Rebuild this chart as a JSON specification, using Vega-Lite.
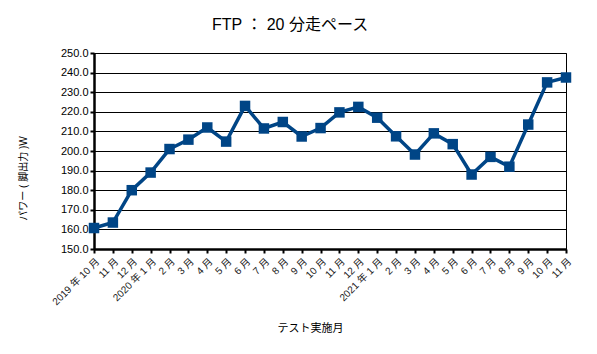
{
  "$schema": "https://vega.github.io/schema/vega-lite/v6.json",
  "autosize": "none",
  "width": 472,
  "height": 196,
  "padding": {"left": 94, "top": 53, "right": 31, "bottom": 105},
  "background": "white",
  "title": {
    "text": "FTP ： 20 分走ペース",
    "font": "Liberation Sans, Noto Sans CJK JP",
    "fontSize": 16,
    "fontWeight": "normal",
    "color": "#000000",
    "anchor": "middle",
    "dx": -40,
    "offset": 14
  },
  "config": {
    "view": {"stroke": "#000000", "strokeWidth": 1},
    "font": "Liberation Sans, Noto Sans CJK JP"
  },
  "data": {
    "values": [
      {"month": "2019-10", "power": 160.7},
      {"month": "2019-11", "power": 163.5},
      {"month": "2019-12", "power": 180.0},
      {"month": "2020-01", "power": 189.0},
      {"month": "2020-02", "power": 201.0},
      {"month": "2020-03", "power": 205.8},
      {"month": "2020-04", "power": 212.0},
      {"month": "2020-05", "power": 204.8},
      {"month": "2020-06", "power": 223.0},
      {"month": "2020-07", "power": 211.5},
      {"month": "2020-08", "power": 214.8},
      {"month": "2020-09", "power": 207.4},
      {"month": "2020-10", "power": 211.7},
      {"month": "2020-11", "power": 219.7},
      {"month": "2020-12", "power": 222.5},
      {"month": "2021-01", "power": 217.0},
      {"month": "2021-02", "power": 207.5},
      {"month": "2021-03", "power": 198.2},
      {"month": "2021-04", "power": 209.0},
      {"month": "2021-05", "power": 203.5},
      {"month": "2021-06", "power": 188.0},
      {"month": "2021-07", "power": 197.0},
      {"month": "2021-08", "power": 192.0},
      {"month": "2021-09", "power": 213.5},
      {"month": "2021-10", "power": 235.0},
      {"month": "2021-11", "power": 237.5}
    ]
  },
  "encoding": {
    "x": {
      "field": "month",
      "type": "ordinal",
      "sort": null,
      "scale": {"type": "point", "padding": 0},
      "axis": {
        "title": "テスト実施月",
        "titleFontSize": 11,
        "titleFontWeight": "normal",
        "titleColor": "#000000",
        "titleBaseline": "alphabetic",
        "titleX": 216,
        "titleY": 82,
        "labelAngle": -45,
        "labelFontSize": 10,
        "labelColor": "#1a1a1a",
        "labelPadding": 3,
        "labelOverlap": false,
        "labelExpr": "(datum.value == '2019-10' || substring(datum.value,5,7) == '01') ? substring(datum.value,0,4) + ' 年 ' + toNumber(substring(datum.value,5,7)) + ' 月' : toNumber(substring(datum.value,5,7)) + ' 月'",
        "domainColor": "#000000",
        "domainWidth": 2.5,
        "tickColor": "#000000",
        "tickWidth": 2,
        "tickSize": 4,
        "grid": false
      }
    },
    "y": {
      "field": "power",
      "type": "quantitative",
      "scale": {"domain": [150, 250], "nice": false, "zero": false},
      "axis": {
        "title": "パワー ( 脚出力 )W",
        "titleFontSize": 10,
        "titleFontWeight": "normal",
        "titleColor": "#000000",
        "titleBaseline": "alphabetic",
        "titleAlign": "center",
        "titleX": -68,
        "titleY": 125,
        "values": [150, 160, 170, 180, 190, 200, 210, 220, 230, 240, 250],
        "format": ".1f",
        "labelFontSize": 11,
        "labelColor": "#000000",
        "labelPadding": 2,
        "domainColor": "#000000",
        "domainWidth": 2.5,
        "tickColor": "#000000",
        "tickWidth": 2,
        "tickSize": 4,
        "grid": true,
        "gridColor": "#000000",
        "gridWidth": 1,
        "gridOpacity": 1
      }
    }
  },
  "layer": [
    {"mark": {"type": "line", "color": "#004586", "strokeWidth": 3.5}},
    {"mark": {"type": "square", "color": "#004586", "filled": true, "opacity": 1, "size": 110}}
  ]
}
